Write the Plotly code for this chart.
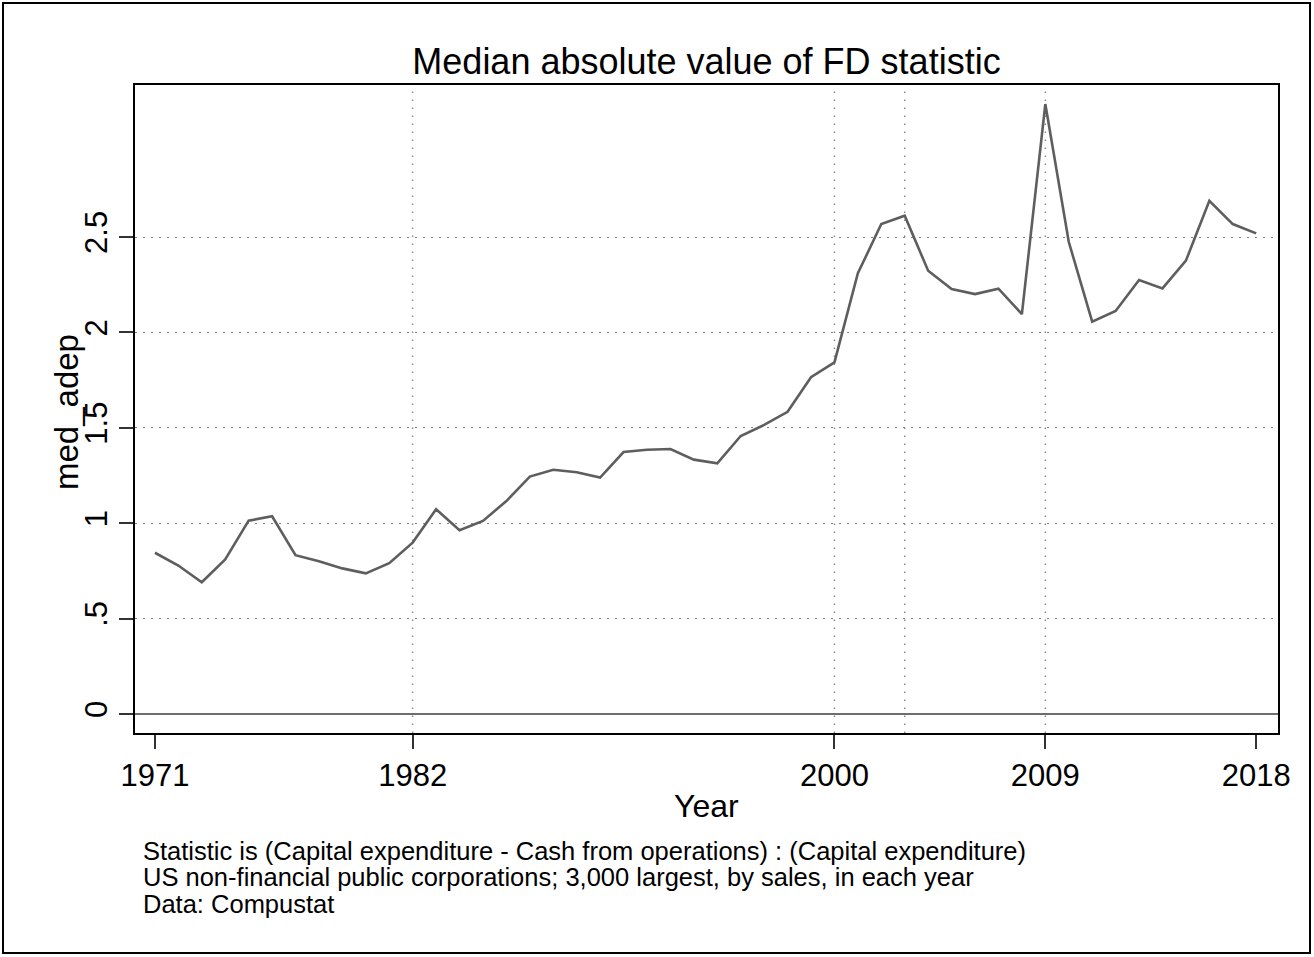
import plotly.graph_objects as go

years = list(range(1971, 2019))
med_adep = [0.845, 0.778, 0.690, 0.810, 1.013, 1.036, 0.832, 0.800, 0.763, 0.737,
            0.790, 0.898, 1.073, 0.963, 1.012, 1.116, 1.244, 1.280, 1.267, 1.239,
            1.373, 1.385, 1.389, 1.333, 1.314, 1.457, 1.515, 1.584, 1.765, 1.843,
            2.310, 2.568, 2.612, 2.323, 2.227, 2.201, 2.229, 2.096, 3.197, 2.475,
            2.056, 2.112, 2.275, 2.231, 2.376, 2.690, 2.568, 2.519]

x_tickvals = [1971, 1982, 2000, 2009, 2018]
y_tickvals = [0, 0.5, 1, 1.5, 2, 2.5]
y_ticktext = ["0", ".5", "1", "1.5", "2", "2.5"]
vline_years = [1982, 2000, 2003, 2009]

title_text = "Median absolute value of FD statistic"
x_title = "Year"
y_title = "med_adep"
notes = [
    "Statistic is (Capital expenditure - Cash from operations) : (Capital expenditure)",
    "US non-financial public corporations; 3,000 largest, by sales, in each year",
    "Data: Compustat",
]

FONT = "Liberation Sans, Arial, sans-serif"
W, H = 1314, 957
L, R, T, B = 135, 1278, 85, 733

def py(Y):
    return (B - Y) / (B - T)

def px(X):
    return (X - L) / (R - L)

fig = go.Figure()
fig.add_trace(go.Scatter(x=years, y=med_adep, mode="lines",
                         line=dict(color="#5e5e5e", width=2.6), showlegend=False,
                         hoverinfo="x+y"))

shapes = []
for yr in vline_years:
    shapes.append(dict(type="line", xref="x", yref="paper", x0=yr, x1=yr, y0=0, y1=1,
                       line=dict(color="#808080", width=1.3, dash="1.5px,6.5px"), layer="below"))
# outer frame
shapes.append(dict(type="rect", xref="paper", yref="paper",
                   x0=px(3), x1=px(1310), y0=py(953), y1=py(3),
                   line=dict(color="black", width=2), layer="above"))

annotations = [
    dict(text=x_title, xref="paper", yref="paper", x=0.5, y=py(806), xanchor="center",
         yanchor="middle", showarrow=False, font=dict(size=32, color="black", family=FONT)),
    dict(text=y_title, xref="paper", yref="paper", x=px(66), y=py(412), xanchor="center",
         yanchor="middle", textangle=-90, showarrow=False,
         font=dict(size=33, color="black", family=FONT)),
]
for t, yy in zip(notes, [850.5, 877, 903.5]):
    annotations.append(dict(text=t, xref="paper", yref="paper", x=px(141), y=py(yy),
                            xanchor="left", yanchor="middle", showarrow=False,
                            font=dict(size=25.5, color="black", family=FONT)))

fig.update_layout(
    width=W, height=H,
    margin=dict(l=L, r=W - R, t=T, b=H - B),
    paper_bgcolor="white", plot_bgcolor="white",
    font=dict(family=FONT, color="black"),
    title=dict(text=title_text, x=0.5, xref="paper", xanchor="center",
               y=1 - 61 / H, yref="container", yanchor="middle",
               font=dict(size=36, color="black", family=FONT)),
    xaxis=dict(range=[1970.15, 2018.93], tickvals=x_tickvals, showgrid=False, zeroline=False,
               ticks="outside", ticklen=14, tickwidth=2, tickcolor="#333",
               showline=True, linecolor="black", linewidth=2, mirror=True,
               tickfont=dict(size=31, color="black", family=FONT)),
    yaxis=dict(range=[-0.1, 3.297], tickvals=y_tickvals, ticktext=y_ticktext,
               tickangle=-90, showgrid=True, gridcolor="#808080", gridwidth=1.3,
               griddash="1.5px,6.5px", zeroline=True, zerolinecolor="#6e6e6e",
               zerolinewidth=1.6, ticks="outside", ticklen=14, tickwidth=2, tickcolor="#333",
               showline=True, linecolor="black", linewidth=2, mirror=True,
               tickfont=dict(size=31, color="black", family=FONT)),
    shapes=shapes,
    annotations=annotations,
)

fig.write_html("out.html", config={"displayModeBar": False},
               post_script="document.body.style.margin='0px';")
